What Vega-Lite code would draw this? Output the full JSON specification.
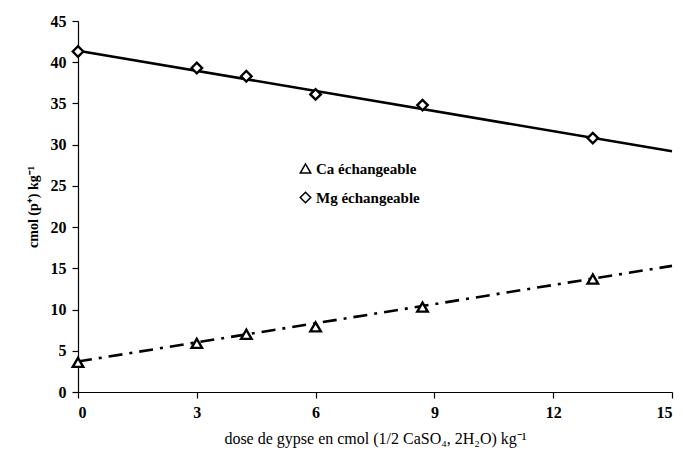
{
  "$schema": "https://vega.github.io/schema/vega-lite/v6.json",
  "autosize": "none",
  "width": 594,
  "height": 371,
  "padding": {"left": 78, "top": 21, "right": 11, "bottom": 71},
  "background": "white",
  "config": {
    "view": {"stroke": null},
    "font": "Liberation Serif",
    "axis": {"domainColor": "black", "tickColor": "black", "labelColor": "black", "titleColor": "black", "grid": false, "labelFont": "Liberation Serif", "titleFont": "Liberation Serif", "labelFontSize": 16, "labelFontWeight": "bold", "titleFontWeight": "bold", "domainWidth": 1.2, "tickWidth": 1.2}
  },
  "datasets": {
    "pts": [
      {"dose": 0, "val": 3.6, "serie": "Ca échangeable"},
      {"dose": 3, "val": 5.9, "serie": "Ca échangeable"},
      {"dose": 4.25, "val": 7.0, "serie": "Ca échangeable"},
      {"dose": 6, "val": 7.9, "serie": "Ca échangeable"},
      {"dose": 8.7, "val": 10.3, "serie": "Ca échangeable"},
      {"dose": 13, "val": 13.7, "serie": "Ca échangeable"},
      {"dose": 0, "val": 41.3, "serie": "Mg échangeable"},
      {"dose": 3, "val": 39.3, "serie": "Mg échangeable"},
      {"dose": 4.25, "val": 38.3, "serie": "Mg échangeable"},
      {"dose": 6, "val": 36.1, "serie": "Mg échangeable"},
      {"dose": 8.7, "val": 34.8, "serie": "Mg échangeable"},
      {"dose": 13, "val": 30.8, "serie": "Mg échangeable"}
    ],
    "fitCa": [
      {"dose": 0, "val": 3.7},
      {"dose": 15, "val": 15.3}
    ],
    "fitMg": [
      {"dose": 0, "val": 41.4},
      {"dose": 15, "val": 29.2}
    ]
  },
  "layer": [
    {
      "data": {"name": "fitCa"},
      "mark": {"type": "line", "color": "black", "strokeWidth": 2.6, "strokeDash": [14, 7, 3, 7]},
      "encoding": {
        "x": {"field": "dose", "type": "quantitative"},
        "y": {"field": "val", "type": "quantitative"}
      }
    },
    {
      "data": {"name": "fitMg"},
      "mark": {"type": "line", "color": "black", "strokeWidth": 2.6},
      "encoding": {
        "x": {"field": "dose", "type": "quantitative"},
        "y": {"field": "val", "type": "quantitative"}
      }
    },
    {
      "data": {"name": "pts"},
      "mark": {"type": "point", "filled": true, "fill": "white", "stroke": "black", "strokeWidth": 2.4, "size": 110, "opacity": 1},
      "encoding": {
        "x": {"field": "dose", "type": "quantitative", "scale": {"domain": [0, 15], "nice": false}, "axis": {"values": [0, 3, 6, 9, 12, 15], "title": "dose de gypse en cmol (1/2 CaSO₄, 2H₂O) kg⁻¹", "titleFontSize": 16, "titleFontWeight": "normal", "titlePadding": 10, "tickSize": 6, "labelPadding": 6}},
        "y": {"field": "val", "type": "quantitative", "scale": {"domain": [0, 45], "nice": false}, "axis": {"values": [0, 5, 10, 15, 20, 25, 30, 35, 40, 45], "title": "cmol (p⁺) kg⁻¹", "titleFontSize": 14, "titlePadding": 10, "tickSize": 6, "labelPadding": 6}},
        "shape": {"field": "serie", "type": "nominal", "scale": {"domain": ["Ca échangeable", "Mg échangeable"], "range": ["triangle-up", "diamond"]}, "legend": {"orient": "none", "legendX": 220, "legendY": 140, "title": null, "labelFont": "Liberation Serif", "labelFontSize": 15, "labelFontWeight": "bold", "labelColor": "black", "symbolSize": 110, "rowPadding": 12, "labelOffset": 3, "encode": {"symbols": {"update": {"stroke": {"value": "black"}, "fill": {"value": "white"}, "strokeWidth": {"value": 2.4}, "opacity": {"value": 1}, "fillOpacity": {"value": 1}, "strokeOpacity": {"value": 1}}}}}}
      }
    }
  ]
}
